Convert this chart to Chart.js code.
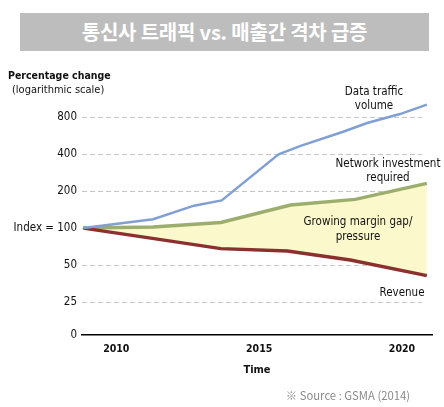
<!DOCTYPE html>
<html><head><meta charset="utf-8">
<script src="https://cdn.jsdelivr.net/npm/chart.js@4.4.1/dist/chart.umd.min.js"></script>
<style>
html,body{margin:0;padding:0;background:#fff;}
#wrap{position:relative;width:444px;height:407px;overflow:hidden;}
#title{position:absolute;left:20px;top:13px;width:409px;height:38px;background:#bdbdbd;color:#fff;font:bold 20px "Noto Sans CJK KR",sans-serif;text-align:center;line-height:38px;letter-spacing:-0.2px;}
canvas{position:absolute;left:0;top:0;}
</style></head><body>
<div id="wrap"><canvas id="c" width="444" height="407"></canvas><div id="title">통신사 트래픽 vs. 매출간 격차 급증</div></div>
<script>
// ---- data ----
const trafficYears   = [2008.85, 2011.29, 2012.72, 2013.69, 2015.68, 2016.45, 2017.94, 2018.78, 2019.93, 2020.87];
const trafficValues  = [100, 118, 152, 168, 398, 465, 607, 715, 846, 1007];
const investYears    = [2008.85, 2011.29, 2013.66, 2016.10, 2018.36, 2020.87];
const investValues   = [100, 102, 111, 154, 171, 231];
const revenueYears   = [2008.85, 2011.32, 2013.66, 2015.99, 2018.19, 2020.87];
const revenueValues  = [100, 82, 68, 65, 55, 41];
const xTickValues    = [2010, 2015, 2020];
const yTickValues    = [13.5, 25, 50, 100, 200, 400, 800];
const yTickLabels    = ['0', '25', '50', 'Index = 100', '200', '400', '800'];

const FONT = '"DejaVu Sans Condensed", "DejaVu Sans", sans-serif';
Chart.defaults.font.family = FONT;
Chart.defaults.color = '#111';

const pts = (xs, ys) => xs.map((x, i) => ({x, y: ys[i]}));
const yMin = 13.5, yMax = 1100;

const overlay = {
  id: 'overlay',
  beforeDatasetsDraw(chart) {
    const {ctx, chartArea, scales: {y}} = chart;
    ctx.save();
    ctx.strokeStyle = '#c6c6c6';
    ctx.lineWidth = 1;
    ctx.setLineDash([5, 3]);
    yTickValues.forEach(v => {
      if (v <= yMin) return;
      const py = Math.round(y.getPixelForValue(v)) + 0.5;
      ctx.beginPath();
      ctx.moveTo(chartArea.left, py);
      ctx.lineTo(chartArea.right - 10, py);
      ctx.stroke();
    });
    ctx.restore();
  },
  afterDraw(chart) {
    const ctx = chart.ctx;
    const notes = chart.options.plugins.overlay.notes;
    ctx.save();
    ctx.textBaseline = 'middle';
    notes.forEach(n => {
      ctx.font = n.font;
      ctx.fillStyle = n.color || '#111';
      ctx.textAlign = n.align || 'center';
      n.lines.forEach((t, i) => ctx.fillText(t, n.x, n.y + i * (n.lh || 14)));
    });
    ctx.restore();
  }
};

new Chart(document.getElementById('c'), {
  type: 'line',
  data: {
    datasets: [
      { label: 'Data traffic volume', data: pts(trafficYears, trafficValues), order: 0,
        borderColor: '#809fd3', borderWidth: 2.4, pointRadius: 0, fill: false, tension: 0 },
      { label: 'Network investment required', data: pts(investYears, investValues), order: 2,
        borderColor: '#9cae6e', borderWidth: 3.4, pointRadius: 0, tension: 0,
        fill: { target: '+1' }, backgroundColor: '#fbf8cb' },
      { label: 'Revenue', data: pts(revenueYears, revenueValues), order: 1,
        borderColor: '#8b2f2f', borderWidth: 3.4, pointRadius: 0, fill: false, tension: 0 }
    ]
  },
  options: {
    responsive: false,
    animation: false,
    devicePixelRatio: 1,
    layout: { padding: { top: 100, right: 12, left: 0, bottom: 0 } },
    plugins: {
      legend: { display: false },
      tooltip: { enabled: false },
      overlay: {
        notes: [
          { lines: ['Percentage change'], x: 8, y: 76, align: 'left', font: 'bold 10.5px ' + FONT },
          { lines: ['(logarithmic scale)'], x: 12, y: 90, align: 'left', font: '11px ' + FONT },
          { lines: ['Data traffic', 'volume'], x: 374, y: 92, font: '11.5px ' + FONT },
          { lines: ['Network investment', 'required'], x: 388, y: 164, font: '11.5px ' + FONT },
          { lines: ['Growing margin gap/', 'pressure'], x: 358, y: 222, lh: 15, font: '11.5px ' + FONT },
          { lines: ['Revenue'], x: 402, y: 293, font: '11.5px ' + FONT },
          { lines: ['※ Source : GSMA (2014)'], x: 348, y: 396, color: '#8a8a8a', font: '11.3px "Noto Sans CJK KR", sans-serif' }
        ]
      }
    },
    scales: {
      x: {
        type: 'linear', min: 2008.8, max: 2021.05,
        afterBuildTicks: s => { s.ticks = xTickValues.map(v => ({value: v})); },
        afterFit: s => { s.height = 72; },
        grid: { display: true, color: 'transparent', drawTicks: false },
        border: { display: true, color: '#000', width: 1.5 },
        ticks: { padding: 8, font: { size: 10.5, weight: 'bold' }, color: '#111', callback: v => String(v) },
        title: { display: true, text: 'Time', font: { size: 11, weight: 'bold' }, color: '#111', padding: { top: 0, bottom: 30 } }
      },
      y: {
        type: 'logarithmic', min: yMin, max: yMax,
        afterBuildTicks: s => { s.ticks = yTickValues.map(v => ({value: v})); },
        afterFit: s => { s.width = 82; },
        grid: { display: false, drawTicks: false },
        border: { display: false },
        ticks: { padding: 5, font: { size: 11.5 }, color: '#111',
          callback: (v) => { const i = yTickValues.indexOf(v); return i >= 0 ? yTickLabels[i] : ''; } }
      }
    }
  },
  plugins: [overlay]
});
</script>
</body></html>
